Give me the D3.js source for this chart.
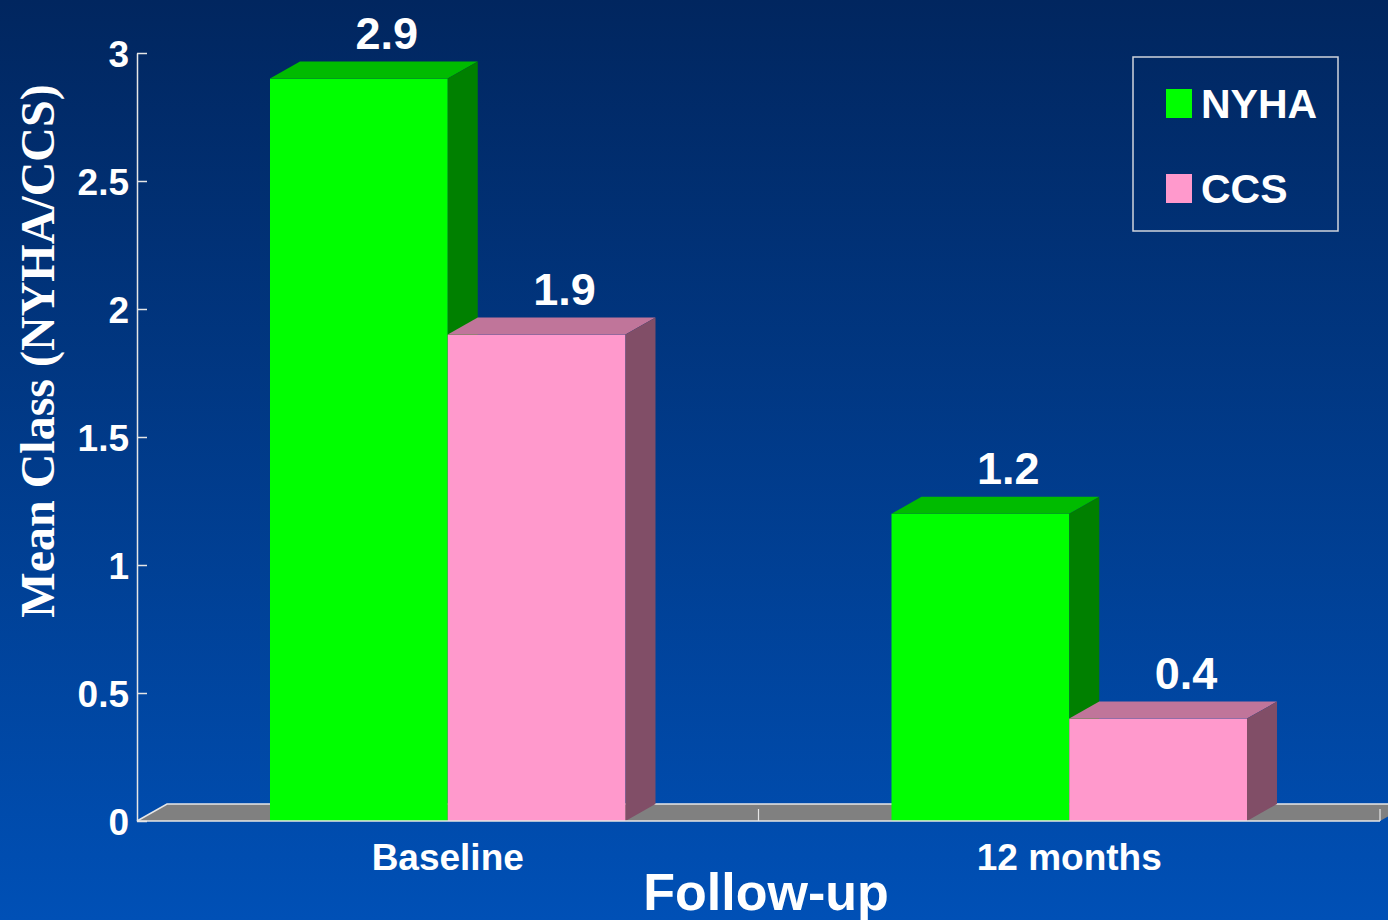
<!DOCTYPE html>
<html><head><meta charset="utf-8">
<script src="https://cdn.jsdelivr.net/npm/d3@7"></script>
<style>html,body{margin:0;padding:0;overflow:hidden;background:#0050b6;}</style>
</head><body>
<script>
const categories = ["Baseline", "12 months"];
const seriesNames = ["NYHA", "CCS"];
const nyhaValues = [2.9, 1.2];
const ccsValues = [1.9, 0.4];
const yTicks = [0, 0.5, 1, 1.5, 2, 2.5, 3];
const yTickLabels = ["0", "0.5", "1", "1.5", "2", "2.5", "3"];
const seriesValues = {NYHA: nyhaValues, CCS: ccsValues};

const W = 1388, H = 920;
const colors = {
  NYHA: {front: "#00ff00", top: "#00bb00", side: "#008000"},
  CCS: {front: "#ff99cc", top: "#c0759a", side: "#814e67"}
};
const DX = 30, DY = 17;
const SANS = "'Liberation Sans', Arial, sans-serif";

const svg = d3.select("body").append("svg").attr("width", W).attr("height", H);
const defs = svg.append("defs");
const grad = defs.append("linearGradient").attr("id", "bg").attr("x1", 0).attr("y1", 0).attr("x2", 0).attr("y2", 1);
grad.append("stop").attr("offset", "0%").attr("stop-color", "#01265f");
grad.append("stop").attr("offset", "100%").attr("stop-color", "#0050b6");
svg.append("rect").attr("width", W).attr("height", H).attr("fill", "url(#bg)");

const y = d3.scaleLinear().domain([0, 3]).range([821, 53]);
const x0 = d3.scaleBand().domain(categories).range([137, 1380]).paddingInner(0.428).paddingOuter(0.214);
const x1 = d3.scaleBand().domain(seriesNames).range([0, x0.bandwidth()]);

// floor
const y0 = y(0);
const xL = 137, xR = 1380;
svg.append("path")
  .attr("d", `M${xL},${y0}L${xL+DX},${y0-DY}L${xR+DX},${y0-DY}L${xR},${y0}Z`)
  .attr("fill", "#808080");
svg.append("path")
  .attr("d", `M${xL},${y0}L${xL+DX},${y0-DY}L${xR+DX},${y0-DY}`)
  .attr("fill", "none").attr("stroke", "#e6e6e6").attr("stroke-width", 1.5);

// category boundary ticks on floor
const bounds = categories.slice(1).map(c => x0(c) - x0.step() * x0.paddingInner() / 2).concat([xR]);
svg.selectAll("line.ctick").data(bounds).join("line")
  .attr("x1", d => d).attr("x2", d => d).attr("y1", y0).attr("y2", y0 - 12)
  .attr("stroke", "#e6e6e6").attr("stroke-width", 1.2);

// bars
categories.forEach((c, ci) => {
  seriesNames.forEach(s => {
    const v = seriesValues[s][ci];
    const xa = x0(c) + x1(s), xb = xa + x1.bandwidth();
    const yt = y(v);
    const g = svg.append("g");
    g.append("rect").attr("x", xa).attr("y", yt).attr("width", xb - xa).attr("height", y0 - yt).attr("fill", colors[s].front);
    g.append("path").attr("d", `M${xa},${yt}L${xa+DX},${yt-DY}L${xb+DX},${yt-DY}L${xb},${yt}Z`).attr("fill", colors[s].top);
    g.append("path").attr("d", `M${xb},${yt}L${xb+DX},${yt-DY}L${xb+DX},${y0-DY}L${xb},${y0}Z`).attr("fill", colors[s].side);
  });
});

// value labels
categories.forEach((c, ci) => {
  seriesNames.forEach(s => {
    const v = seriesValues[s][ci];
    const cx = x0(c) + x1(s) + x1.bandwidth() / 2 + DX - 2;
    svg.append("text").attr("x", cx).attr("y", y(v) - DY - 13)
      .attr("text-anchor", "middle").attr("fill", "#ffffff")
      .style("font-family", SANS).style("font-weight", "bold").style("font-size", "45px")
      .text(d3.format(".1f")(v));
  });
});

// front baseline
svg.append("line").attr("x1", xL).attr("x2", xR).attr("y1", y0).attr("y2", y0)
  .attr("stroke", "#e6e6e6").attr("stroke-width", 1.5);

// y axis
const yAxis = d3.axisLeft(y).tickValues(yTicks).tickFormat((d, i) => yTickLabels[i])
  .tickSizeInner(-10).tickSizeOuter(0).tickPadding(8);
const ga = svg.append("g").attr("transform", `translate(${xL},0)`).call(yAxis);
ga.select(".domain").attr("stroke", "#e6e6e6").attr("stroke-width", 1.5);
ga.selectAll(".tick line").attr("stroke", "#e6e6e6").attr("stroke-width", 1.5);
ga.selectAll(".tick text").attr("fill", "#ffffff").attr("dy", "0.36em")
  .style("font-family", SANS).style("font-weight", "bold").style("font-size", "37px");

// category labels
svg.selectAll("text.cat").data(categories).join("text")
  .attr("x", d => x0(d) + x0.bandwidth() / 2).attr("y", 870)
  .attr("text-anchor", "middle").attr("fill", "#ffffff")
  .style("font-family", SANS).style("font-weight", "bold").style("font-size", "37px")
  .text(d => d);

// x title
svg.append("text").attr("x", 766).attr("y", 910).attr("text-anchor", "middle").attr("fill", "#ffffff")
  .style("font-family", SANS).style("font-weight", "bold").style("font-size", "52px").text("Follow-up");

// y title
svg.append("text").attr("transform", "translate(54,351) rotate(-90)").attr("text-anchor", "middle").attr("fill", "#ffffff")
  .style("font-family", "'Liberation Serif', 'Times New Roman', serif").style("font-weight", "bold").style("font-size", "48px")
  .text("Mean Class (NYHA/CCS)");

// legend
const lg = svg.append("g");
lg.append("rect").attr("x", 1133).attr("y", 57).attr("width", 205).attr("height", 174)
  .attr("fill", "none").attr("stroke", "#d0d4dc").attr("stroke-width", 1.5);
seriesNames.forEach((s, i) => {
  const by = 89 + i * 85;
  lg.append("rect").attr("x", 1166).attr("y", by).attr("width", 26).attr("height", 29).attr("fill", colors[s].front);
  lg.append("text").attr("x", 1201).attr("y", by + 29).attr("fill", "#ffffff")
    .style("font-family", SANS).style("font-weight", "bold").style("font-size", "41px").text(s);
});
</script>
</body></html>
